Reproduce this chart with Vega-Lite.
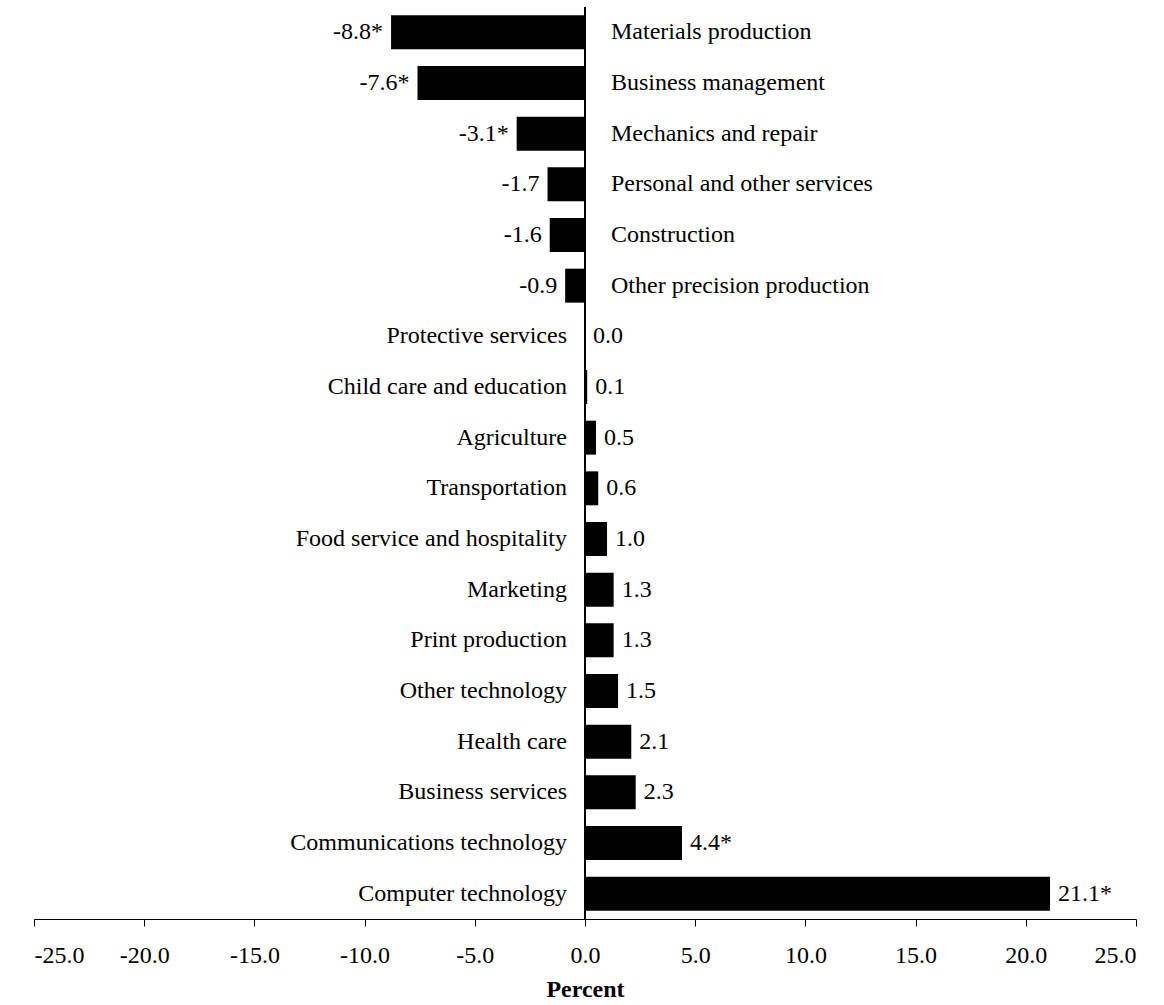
{
  "$schema": "https://vega.github.io/schema/vega-lite/v6.json",
  "autosize": "none",
  "width": 1102,
  "height": 912,
  "padding": {"left": 34, "top": 7, "right": 28, "bottom": 86},
  "background": "white",
  "config": {"view": {"stroke": null}, "font": "Liberation Serif"},
  "data": {"values": [
    {"category": "Materials production", "value": -8.8, "label": "-8.8*"},
    {"category": "Business management", "value": -7.6, "label": "-7.6*"},
    {"category": "Mechanics and repair", "value": -3.1, "label": "-3.1*"},
    {"category": "Personal and other services", "value": -1.7, "label": "-1.7"},
    {"category": "Construction", "value": -1.6, "label": "-1.6"},
    {"category": "Other precision production", "value": -0.9, "label": "-0.9"},
    {"category": "Protective services", "value": 0.0, "label": "0.0"},
    {"category": "Child care and education", "value": 0.1, "label": "0.1"},
    {"category": "Agriculture", "value": 0.5, "label": "0.5"},
    {"category": "Transportation", "value": 0.6, "label": "0.6"},
    {"category": "Food service and hospitality", "value": 1.0, "label": "1.0"},
    {"category": "Marketing", "value": 1.3, "label": "1.3"},
    {"category": "Print production", "value": 1.3, "label": "1.3"},
    {"category": "Other technology", "value": 1.5, "label": "1.5"},
    {"category": "Health care", "value": 2.1, "label": "2.1"},
    {"category": "Business services", "value": 2.3, "label": "2.3"},
    {"category": "Communications technology", "value": 4.4, "label": "4.4*"},
    {"category": "Computer technology", "value": 21.1, "label": "21.1*"}
  ]},
  "encoding": {
    "y": {"field": "category", "type": "nominal", "sort": null, "axis": null,
          "scale": {"paddingInner": 0.33, "paddingOuter": 0.165}}
  },
  "layer": [
    {
      "mark": {"type": "bar", "color": "black"},
      "encoding": {
        "x": {"field": "value", "type": "quantitative",
              "scale": {"domain": [-25, 25], "nice": false, "zero": false},
              "axis": {"values": [-25, -20, -15, -10, -5, 0, 5, 10, 15, 20, 25],
                       "labelExpr": "datum.value < 0 ? '-' + format(abs(datum.value), '.1f') : format(datum.value, '.1f')",
                       "grid": false, "domainColor": "black", "tickColor": "black", "tickSize": 7,
                       "labelFontSize": 24, "labelColor": "black", "labelPadding": 17,
                       "title": "Percent", "titleFontSize": 24, "titleFontWeight": "bold",
                       "titleColor": "black", "titlePadding": 10}}
      }
    },
    {
      "mark": {"type": "rule", "color": "black", "strokeWidth": 1},
      "encoding": {"x": {"datum": 0, "type": "quantitative"}, "y": null}
    },
    {
      "transform": [{"filter": "datum.value < 0"}],
      "mark": {"type": "text", "align": "right", "dx": -8, "fontSize": 24, "color": "black"},
      "encoding": {"x": {"field": "value", "type": "quantitative"}, "text": {"field": "label"}}
    },
    {
      "transform": [{"filter": "datum.value >= 0"}],
      "mark": {"type": "text", "align": "left", "dx": 8, "fontSize": 24, "color": "black"},
      "encoding": {"x": {"field": "value", "type": "quantitative"}, "text": {"field": "label"}}
    },
    {
      "transform": [{"filter": "datum.value < 0"}],
      "mark": {"type": "text", "align": "left", "dx": 26, "fontSize": 24, "color": "black"},
      "encoding": {"x": {"datum": 0, "type": "quantitative"}, "text": {"field": "category"}}
    },
    {
      "transform": [{"filter": "datum.value >= 0"}],
      "mark": {"type": "text", "align": "right", "dx": -18, "fontSize": 24, "color": "black"},
      "encoding": {"x": {"datum": 0, "type": "quantitative"}, "text": {"field": "category"}}
    }
  ]
}
